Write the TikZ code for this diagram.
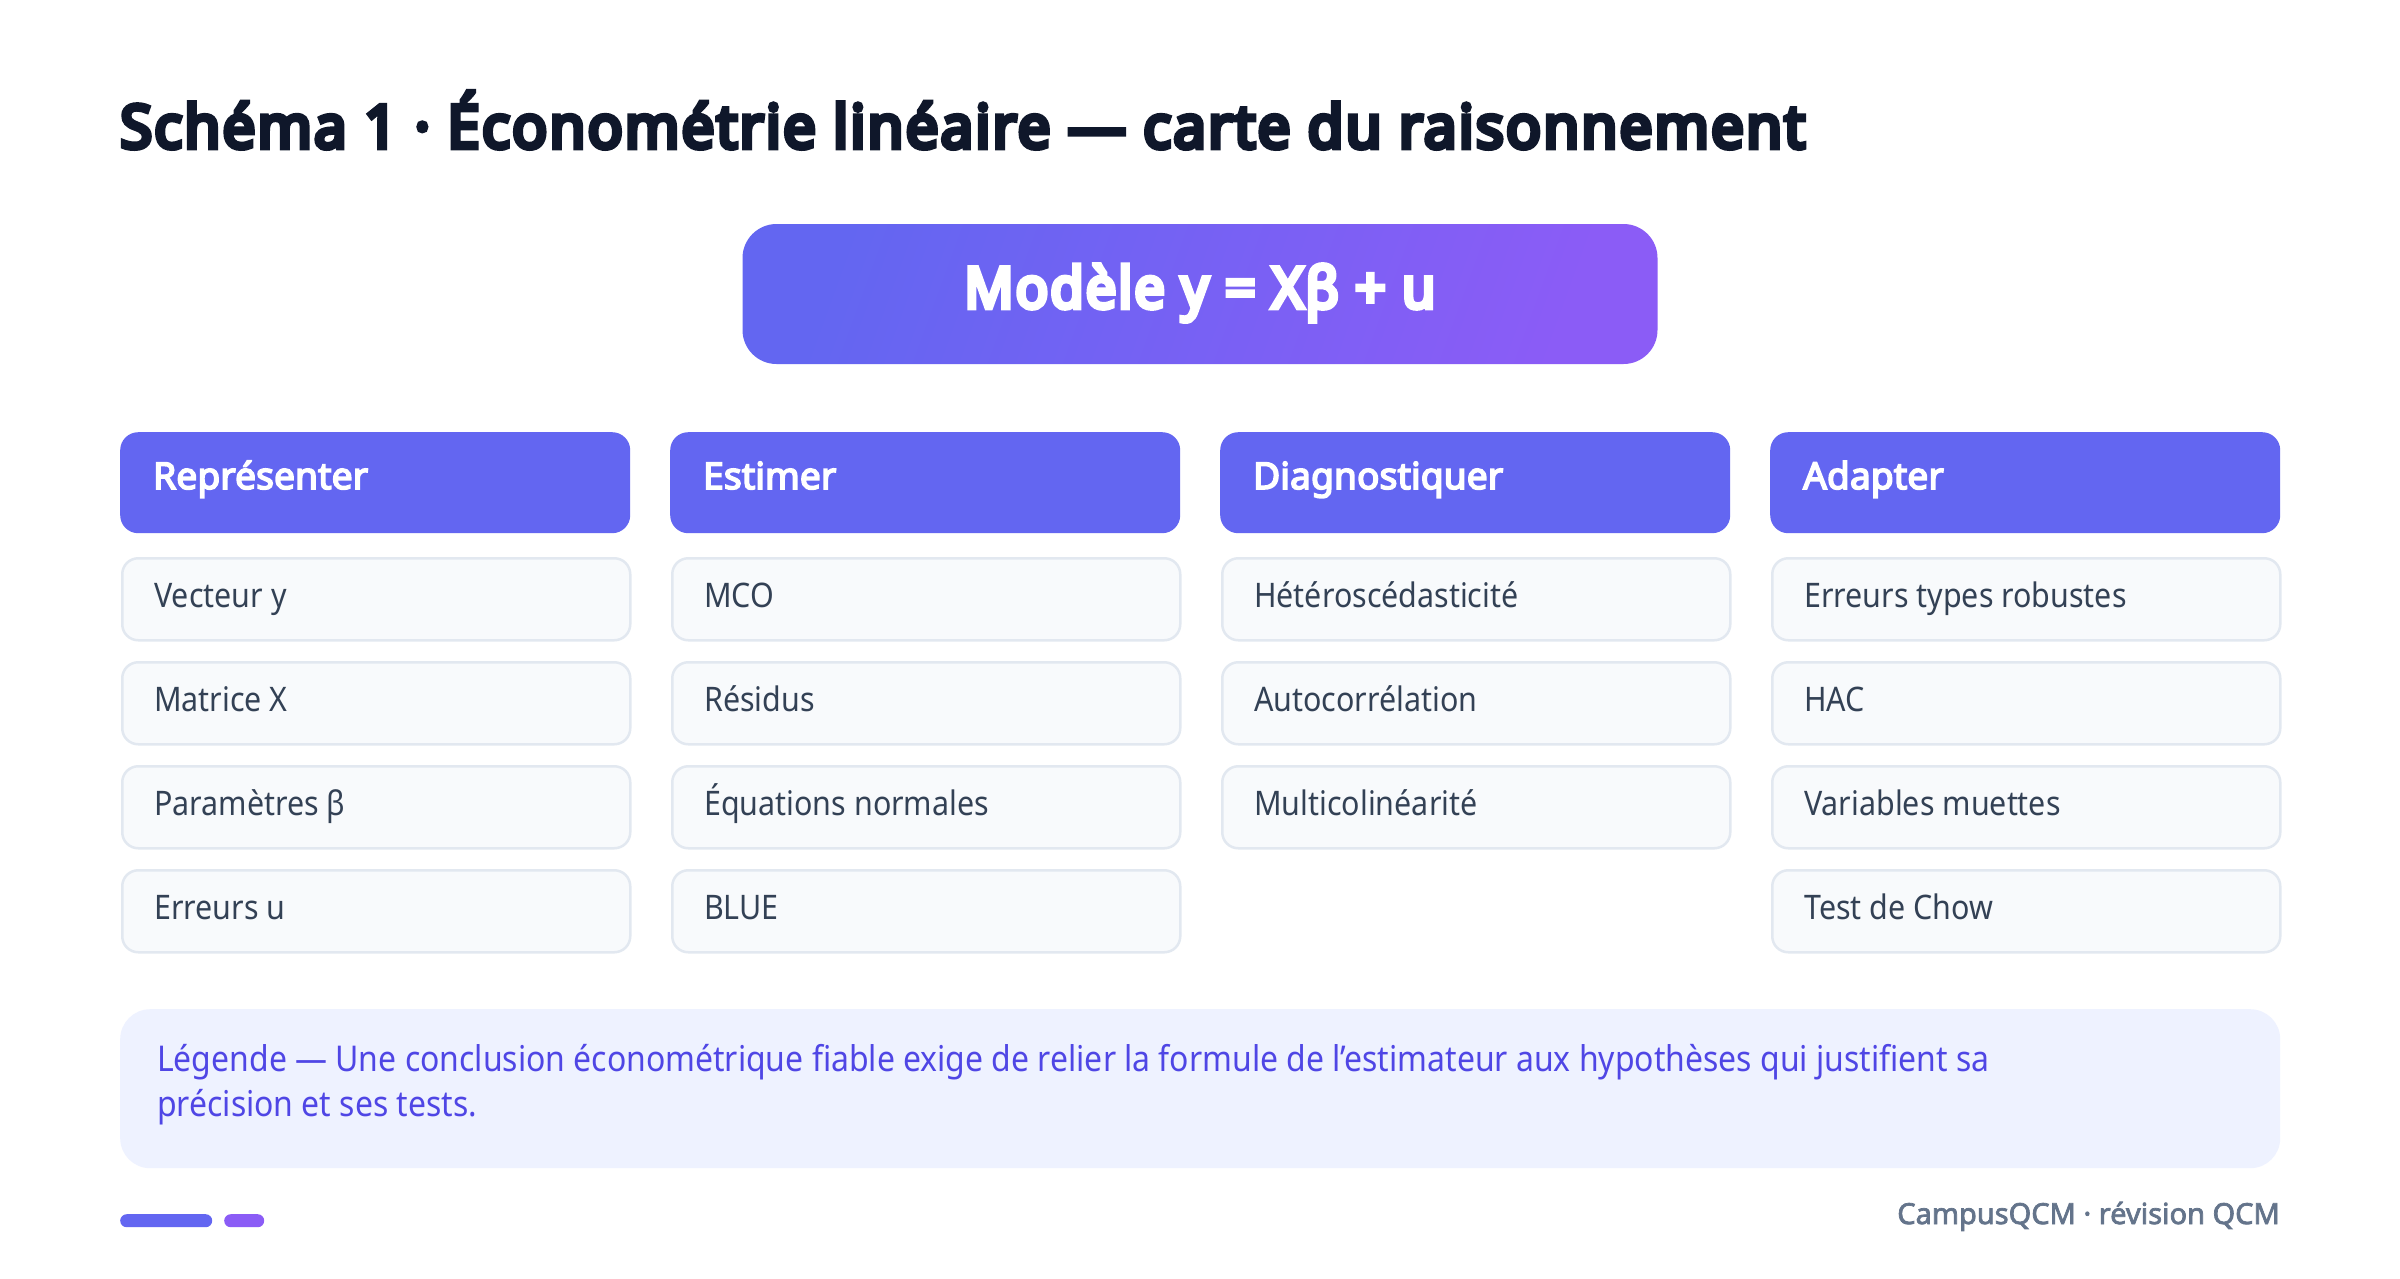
\documentclass[tikz,border=0pt]{standalone}
\usepackage{fontspec}
\setmainfont{Noto Sans}[FakeStretch=0.9]
\newfontfamily\titlefont{Noto Sans}[UprightFeatures={FakeBold=8}, FakeStretch=0.97, LetterSpace=3.6]
\newfontfamily\modelfont{Noto Sans}[UprightFeatures={FakeBold=8}, FakeStretch=0.95, LetterSpace=3.6]
\newfontfamily\hdrfont{Noto Sans}[UprightFeatures={FakeBold=4.5}, LetterSpace=0.5]
\newfontfamily\footfont{Noto Sans}[UprightFeatures={FakeBold=2.5}]
\definecolor{titlec}{HTML}{0F172A}
\definecolor{indigo}{HTML}{6366F1}
\definecolor{violet}{HTML}{8B5CF6}
\definecolor{itemfill}{HTML}{F8FAFC}
\definecolor{itemdraw}{HTML}{E2E8F0}
\definecolor{itemtext}{HTML}{334155}
\definecolor{legfill}{HTML}{EEF2FF}
\definecolor{legtext}{HTML}{4F46E5}
\definecolor{foot}{HTML}{64748B}
\begin{document}
\begin{tikzpicture}[x=1pt,y=-1pt,
  hdr/.style={fill=indigo, rounded corners=18pt, minimum width=510pt, minimum height=101pt, anchor=north west, inner sep=0pt},
  item/.style={fill=itemfill, draw=itemdraw, line width=2.5pt, rounded corners=16pt, minimum width=508pt, minimum height=82pt, anchor=north west, inner sep=0pt},
  hdrtxt/.style={anchor=base west, inner sep=0pt, text=white, font=\hdrfont\fontsize{37}{46}\selectfont},
  itemtxt/.style={anchor=base west, inner sep=0pt, text=itemtext, font=\fontsize{33.8}{40}\selectfont},
  legtxt/.style={anchor=base west, inner sep=0pt, text=legtext, font=\fontsize{35.5}{42}\selectfont},
]
\useasboundingbox (0,0) rectangle (2400,1278);
\fill[white] (0,0) rectangle (2400,1278);

\node[anchor=base west, inner sep=0pt, text=titlec, font=\titlefont\fontsize{60}{70}\selectfont] (title) at (120,148) {Schéma 1 · Économétrie linéaire — carte du raisonnement};

\node[rounded corners=34pt, top color=indigo, bottom color=violet, shading angle=70, minimum width=915pt, minimum height=140pt, inner sep=0pt] (model) at (1200,294) {};
\node[anchor=base, inner sep=0pt, text=white, font=\modelfont\fontsize{57}{66}\selectfont] (modelt) at ([yshift=-14pt]model.center) {Modèle y = Xβ + u};

\foreach \c/\x/\t in {1/120/Représenter, 2/670/Estimer, 3/1220/Diagnostiquer, 4/1770/Adapter} {
  \node[hdr] (h\c) at (\x,432) {};
  \node[hdrtxt] (ht\c) at ([shift={(33,57)}]h\c.north west) {\t};
}

\foreach \c/\r/\t in {1/1/Vecteur y, 1/2/Matrice X, 1/3/Paramètres β, 1/4/Erreurs u,
  2/1/MCO, 2/2/Résidus, 2/3/Équations normales, 2/4/BLUE,
  3/1/Hétéroscédasticité, 3/2/Autocorrélation, 3/3/Multicolinéarité,
  4/1/Erreurs types robustes, 4/2/HAC, 4/3/Variables muettes, 4/4/Test de Chow} {
  \pgfmathsetmacro\xx{121+(\c-1)*550}
  \pgfmathsetmacro\yy{557+(\r-1)*104}
  \node[item] (i\c\r) at (\xx,\yy) {};
  \node[itemtxt] (it\c\r) at ([shift={(33,50)}]i\c\r.north west) {\t};
}

\node[fill=legfill, rounded corners=30pt, minimum width=2160pt, minimum height=159pt, anchor=north west, inner sep=0pt] (leg) at (120,1009) {};
\node[legtxt] (leg1) at ([shift={(37,62)}]leg.north west) {Légende — Une conclusion économétrique fiable exige de relier la formule de l'estimateur aux hypothèses qui justifient sa};
\node[legtxt] (leg2) at ([shift={(0,45)}]leg1.base west) {précision et ses tests.};

\node[fill=indigo, rounded corners=6.5pt, minimum width=92pt, minimum height=13pt, anchor=north west, inner sep=0pt] (p1) at (120,1214) {};
\node[fill=violet, rounded corners=6.5pt, minimum width=40pt, minimum height=13pt, anchor=north west, inner sep=0pt] (p2) at (224,1214) {};
\node[anchor=base east, inner sep=0pt, text=foot, font=\footfont\fontsize{29}{36}\selectfont] (foot) at (2280,1224) {CampusQCM · révision QCM};
\end{tikzpicture}
\end{document}
